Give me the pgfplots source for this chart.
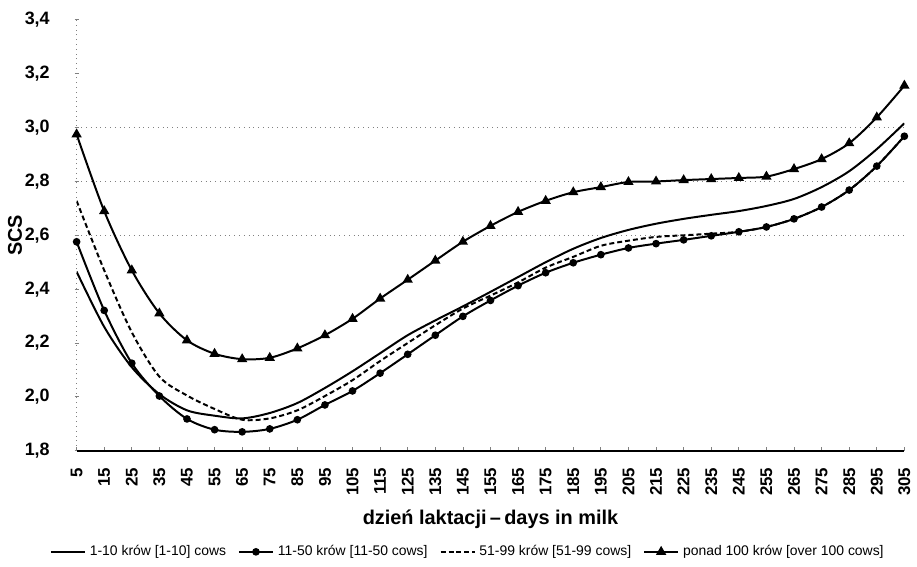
\documentclass[border=0pt]{standalone}
\usepackage{fontspec}
\setmainfont{Liberation Sans}
\usepackage{pgfplots}
\pgfplotsset{compat=1.18}
\usepackage{pgfplotstable}
\usetikzlibrary{calc}

\pgfplotstableread{
day a b c d
5   2.465 2.576 2.728 2.975
15  2.260 2.321 2.470 2.690
25  2.110 2.125 2.240 2.470
35  2.010 2.003 2.075 2.310
45  1.950 1.918 2.005 2.210
55  1.930 1.878 1.955 2.160
65  1.920 1.870 1.915 2.140
75  1.940 1.881 1.920 2.145
85  1.977 1.915 1.950 2.180
95  2.033 1.970 2.003 2.229
105 2.095 2.022 2.062 2.290
115 2.162 2.088 2.133 2.365
125 2.229 2.158 2.200 2.435
135 2.284 2.229 2.266 2.506
145 2.336 2.299 2.328 2.576
155 2.390 2.358 2.376 2.635
165 2.445 2.413 2.425 2.687
175 2.500 2.461 2.480 2.728
185 2.550 2.498 2.520 2.760
195 2.590 2.528 2.561 2.779
205 2.620 2.553 2.580 2.798
215 2.643 2.569 2.594 2.800
225 2.661 2.583 2.600 2.805
235 2.676 2.598 2.606 2.809
245 2.690 2.613 2.613 2.813
255 2.709 2.631 2.631 2.818
265 2.735 2.661 2.661 2.846
275 2.779 2.705 2.705 2.883
285 2.838 2.768 2.768 2.942
295 2.920 2.857 2.857 3.038
305 3.016 2.968 2.968 3.156
}\data

\begin{document}
\begin{tikzpicture}
\begin{axis}[
  scale only axis, width=416pt, height=216.5pt,
  xmin=5, xmax=305, ymin=1.8, ymax=3.4,
  axis x line=bottom, axis y line=left,
  x axis line style={black, line width=1pt, -},
  y axis line style={gray, dotted, -},
  xtick={5,15,...,305},
  ytick={1.8,2.0,2.2,2.4,2.6,2.8,3.0,3.2,3.4},
  extra y ticks={2.6,2.8,3.0},
  extra y tick labels={},
  extra y tick style={ymajorgrids=true, major grid style={gray, dotted, line width=0.6pt}},
  major tick length=2pt,
  tick style={gray, thin},
  xtick align=inside,
  /pgf/number format/assume math mode=true,
  yticklabel style={/pgf/number format/use comma, /pgf/number format/fixed, /pgf/number format/fixed zerofill, /pgf/number format/precision=1, font=\bfseries\fontsize{9}{10}\selectfont, xshift=-9pt},
  xticklabel style={font=\bfseries\fontsize{8.5}{10}\selectfont, rotate=90, anchor=east, xshift=-5pt},
  xlabel={dzień laktacji\,\textendash\,days in milk},
  xlabel style={font=\bfseries\fontsize{10}{12}\selectfont, at={(axis description cs:0.5,-0.16)}, anchor=center},
  ylabel={SCS},
  ylabel style={font=\bfseries\fontsize{10}{12}\selectfont, at={(axis description cs:-0.0745,0.5)}, anchor=center},
  legend style={at={(axis description cs:-0.04,-0.2)}, anchor=north west, draw=none,
    font=\fontsize{7}{8}\selectfont, legend columns=4,
    /tikz/every even column/.append style={column sep=4pt}},
  legend cell align=left,
]
\addplot[black, line width=1pt, smooth] table[x=day,y=a]{\data};
\addlegendentry{1-10 krów [1-10] cows}
\addplot[black, line width=1pt, smooth, mark=*, mark size=1.4pt] table[x=day,y=b]{\data};
\addlegendentry{11-50 krów [11-50 cows]}
\addplot[black, line width=1pt, smooth, dash pattern=on 2.5pt off 1.5pt] table[x=day,y=c]{\data};
\addlegendentry{51-99 krów [51-99 cows]}
\addplot[black, line width=1pt, smooth, mark=triangle*, mark size=2pt, mark options={solid}] table[x=day,y=d]{\data};
\addlegendentry{ponad 100 krów [over 100 cows]}
\end{axis}
\path[use as bounding box] ($(current axis.south west)+(-38.5pt,-56pt)$) rectangle ($(current axis.north east)+(4pt,10pt)$);
\end{tikzpicture}
\end{document}
